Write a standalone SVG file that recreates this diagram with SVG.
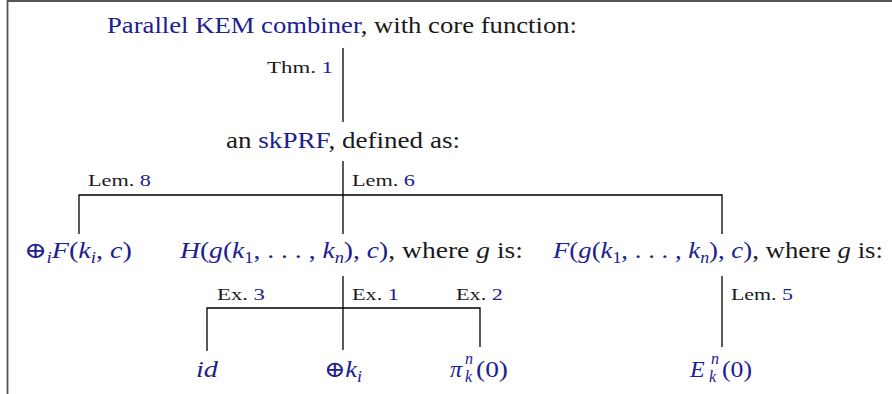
<svg xmlns="http://www.w3.org/2000/svg" width="892" height="394" viewBox="0 0 892 394">
<style>
text{font-family:"Liberation Serif",serif;fill:#1a1a1a}
.m{font-size:24px}
.s{font-size:17px}
.b,.b tspan{fill:#202090}
.i{font-style:italic}
.sub{font-size:16px}
.op{font-family:"DejaVu Serif",serif;font-size:23px}
.ln{fill:none;stroke:#000;stroke-width:1.3}
.frame{fill:none;stroke:#555;stroke-width:1.8}
</style>
<rect width="892" height="394" fill="#fff"/>
<path class="frame" d="M7.5 394V1H892"/>
<g id="connectors">
<path class="ln" d="M343 48V122"/>
<path class="ln" d="M343 161V234"/>
<path class="ln" d="M79 234V195H722V234"/>
<path class="ln" d="M343 276V350"/>
<path class="ln" d="M207 351V308H480V347"/>
<path class="ln" d="M722 276V347"/>
<text class="s" x="267" y="73" textLength="66" lengthAdjust="spacingAndGlyphs">Thm. <tspan class="b">1</tspan></text>
<text class="s" x="88" y="186" textLength="63" lengthAdjust="spacingAndGlyphs">Lem. <tspan class="b">8</tspan></text>
<text class="s" x="352" y="186" textLength="63" lengthAdjust="spacingAndGlyphs">Lem. <tspan class="b">6</tspan></text>
<text class="s" x="217" y="300" textLength="48" lengthAdjust="spacingAndGlyphs">Ex. <tspan class="b">3</tspan></text>
<text class="s" x="352" y="300" textLength="47" lengthAdjust="spacingAndGlyphs">Ex. <tspan class="b">1</tspan></text>
<text class="s" x="456" y="300" textLength="47" lengthAdjust="spacingAndGlyphs">Ex. <tspan class="b">2</tspan></text>
<text class="s" x="731" y="300" textLength="62" lengthAdjust="spacingAndGlyphs">Lem. <tspan class="b">5</tspan></text>
</g>
<g id="n-title">
<text class="m" x="107" y="33" textLength="470" lengthAdjust="spacingAndGlyphs"><tspan class="b">Parallel KEM combiner</tspan>, with core function:</text>
</g>
<g id="n-skprf">
<text class="m" x="226" y="148" textLength="234" lengthAdjust="spacingAndGlyphs">an <tspan class="b">skPRF</tspan>, defined as:</text>
</g>
<g id="n-xorf">
<text class="m b" x="24" y="258" textLength="108" lengthAdjust="spacingAndGlyphs"><tspan class="op">⊕</tspan><tspan class="sub i" dy="5">i</tspan><tspan class="i" dy="-5">F</tspan>(<tspan class="i">k</tspan><tspan class="sub i" dy="5">i</tspan><tspan dy="-5">, </tspan><tspan class="i">c</tspan>)</text>
</g>
<g id="n-h">
<text class="m" x="180" y="258" textLength="343" lengthAdjust="spacingAndGlyphs"><tspan class="b"><tspan class="i">H</tspan>(<tspan class="i">g</tspan>(<tspan class="i">k</tspan><tspan class="sub" dy="5">1</tspan><tspan dy="-5">, . . . , </tspan><tspan class="i">k</tspan><tspan class="sub i" dy="5">n</tspan><tspan dy="-5">), </tspan><tspan class="i">c</tspan>)</tspan>, where <tspan class="i">g</tspan> is:</text>
</g>
<g id="n-f">
<text class="m" x="553" y="258" textLength="330" lengthAdjust="spacingAndGlyphs"><tspan class="b"><tspan class="i">F</tspan>(<tspan class="i">g</tspan>(<tspan class="i">k</tspan><tspan class="sub" dy="5">1</tspan><tspan dy="-5">, . . . , </tspan><tspan class="i">k</tspan><tspan class="sub i" dy="5">n</tspan><tspan dy="-5">), </tspan><tspan class="i">c</tspan>)</tspan>, where <tspan class="i">g</tspan> is:</text>
</g>
<g id="n-id">
<text class="m b i" x="196" y="377" textLength="22" lengthAdjust="spacingAndGlyphs">id</text>
</g>
<g id="n-xork">
<text class="m b" x="324" y="377" textLength="38" lengthAdjust="spacingAndGlyphs"><tspan class="op">⊕</tspan><tspan class="i">k</tspan><tspan class="sub i" dy="5">i</tspan></text>
</g>
<g id="n-pi">
<text class="m b i" x="450" y="377">π</text>
<text class="sub b i" x="465" y="364">n</text>
<text class="sub b i" x="465" y="382">k</text>
<text class="m b" x="476" y="377" textLength="32" lengthAdjust="spacingAndGlyphs">(0)</text>
</g>
<g id="n-e">
<text class="m b i" x="690" y="377">E</text>
<text class="sub b i" x="711" y="364">n</text>
<text class="sub b i" x="709" y="382">k</text>
<text class="m b" x="722" y="377" textLength="30" lengthAdjust="spacingAndGlyphs">(0)</text>
</g>
</svg>
